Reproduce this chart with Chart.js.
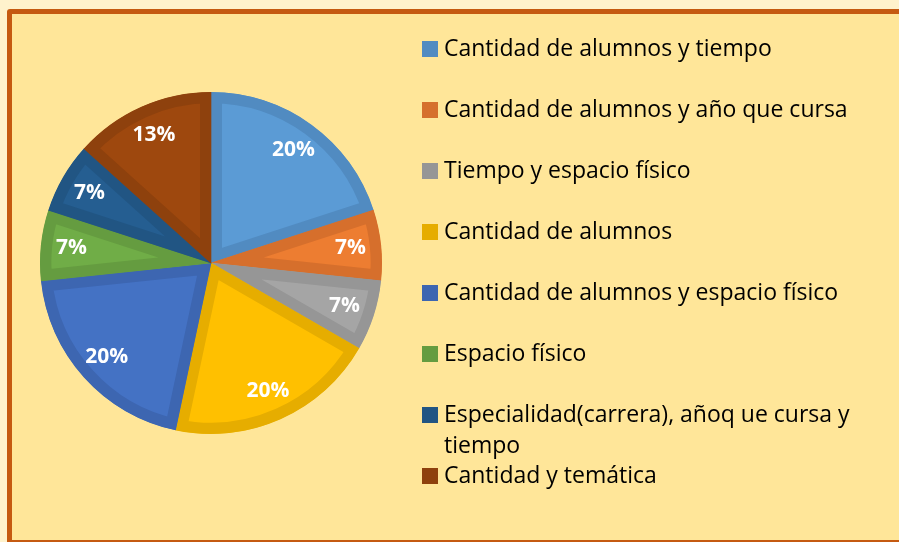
<!DOCTYPE html>
<html>
<head>
<meta charset="utf-8">
<script src="https://cdn.jsdelivr.net/npm/chart.js@4.4.1/dist/chart.umd.min.js"></script>
<style>
  html, body { margin: 0; padding: 0; width: 899px; height: 542px; overflow: hidden; background: #FFF2CC; }
  #frame {
    position: absolute; left: 7px; top: 9px; width: 900px; height: 536px;
    box-sizing: border-box; background: #FFE699;
    border: 5px solid #C55A11; border-radius: 3px;
  }
  #chartCanvas { position: absolute; left: 0; top: 0; }
</style>
</head>
<body>
<div id="frame"></div>
<canvas id="chartCanvas" width="899" height="542"></canvas>
<script>
// ===============================
// DATA
// ===============================
const categories = [
  "Cantidad de alumnos y tiempo",
  "Cantidad de alumnos y año que cursa",
  "Tiempo y espacio físico",
  "Cantidad de alumnos",
  "Cantidad de alumnos y espacio físico",
  "Espacio físico",
  "Especialidad(carrera), añoq ue cursa y tiempo",
  "Cantidad y temática"
];
const counts = [3, 1, 1, 3, 3, 1, 1, 2];

const fillColors = ["#5B9BD5", "#ED7D31", "#A5A5A5", "#FFC000", "#4472C4", "#70AD47", "#255E91", "#9E480E"];
const edgeColors = ["#518BC1", "#D66F2C", "#969696", "#E6AD00", "#3D66B1", "#659C40", "#215583", "#8E410D"];

const canvas = document.getElementById("chartCanvas");
const FONT = '"Open Sans", "Noto Sans", sans-serif';

// ===============================
// PERCENT LABELS INSIDE SLICES
// ===============================
const sliceLabels = {
  id: "sliceLabels",
  afterDatasetsDraw(chart) {
    const ctx = chart.ctx;
    const total = counts.reduce((a, b) => a + b, 0);
    ctx.save();
    ctx.font = "bold 21px " + FONT;
    ctx.fillStyle = "#ffffff";
    ctx.textAlign = "center";
    ctx.textBaseline = "middle";
    chart.getDatasetMeta(0).data.forEach((arc, i) => {
      const p = arc.getProps(["x", "y", "startAngle", "endAngle", "outerRadius"], true);
      const mid = (p.startAngle + p.endAngle) / 2;
      const r = p.outerRadius * 0.82;
      ctx.fillText(Math.round(counts[i] / total * 100) + "%",
        p.x + Math.cos(mid) * r, p.y + Math.sin(mid) * r);
    });
    ctx.restore();
  }
};

// ===============================
// LEGEND ON THE RIGHT (wraps long labels)
// ===============================
const sideLegend = {
  id: "sideLegend",
  afterDraw(chart) {
    const ctx = chart.ctx;
    const boxX = 422, textX = 444, firstY = 49, step = 61, lineH = 31, maxW = 440;
    ctx.save();
    ctx.font = "23px " + FONT;
    ctx.textBaseline = "middle";
    ctx.textAlign = "left";
    chart.data.labels.forEach((label, i) => {
      const y = firstY + i * step;
      ctx.fillStyle = edgeColors[i];
      ctx.fillRect(boxX, y - 8, 16, 16);

      // word wrap
      const words = label.split(" ");
      const lines = [];
      let line = "";
      words.forEach(w => {
        const test = line ? line + " " + w : w;
        if (ctx.measureText(test).width > maxW && line) {
          lines.push(line);
          line = w;
        } else {
          line = test;
        }
      });
      lines.push(line);

      ctx.fillStyle = "#000000";
      lines.forEach((l, k) => ctx.fillText(l, textX, y + k * lineH));
    });
    ctx.restore();
  }
};

// ===============================
// PIE CHART
// ===============================
document.fonts.load("23px " + FONT).then(() => {
  new Chart(canvas, {
    type: "pie",
    data: {
      labels: categories,
      datasets: [{
        data: counts,
        backgroundColor: fillColors,
        borderColor: edgeColors,
        borderWidth: 11,
        borderAlign: "inner",
        borderJoinStyle: "miter",
        hoverBorderWidth: 11
      }]
    },
    options: {
      responsive: false,
      animation: false,
      events: [],
      layout: { padding: { left: 40, top: 92, right: 517, bottom: 108 } },
      plugins: {
        legend: { display: false },
        tooltip: { enabled: false }
      }
    },
    plugins: [sliceLabels, sideLegend]
  });
});
</script>
</body>
</html>
